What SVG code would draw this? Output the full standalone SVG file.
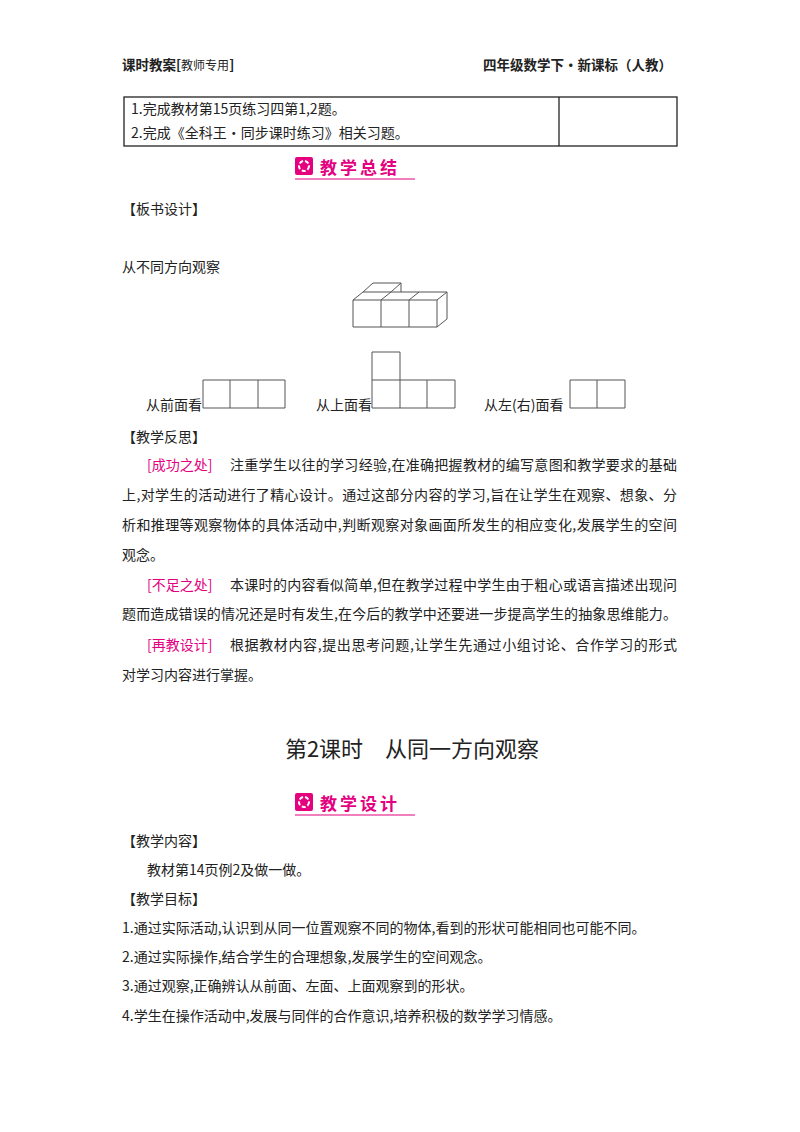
<svg xmlns="http://www.w3.org/2000/svg" width="800" height="1132" viewBox="0 0 800 1132">
<style>
text{font-family:"Noto Sans CJK SC","Liberation Serif",serif;font-size:14px;fill:#222}
.h{font-size:13.5px;font-weight:bold}
.p{fill:#e4007f}
.b{font-size:17px;font-weight:bold;fill:#e4007f;letter-spacing:3px}
.title{font-size:22px}
.sm{font-size:12px;font-weight:normal}
.l{fill:none;stroke:#555;stroke-width:1}
.t{fill:none;stroke:#222;stroke-width:1.3}
</style>
<rect width="800" height="1132" fill="#fff"/>
<text x="122" y="70" class="h">课时教案[<tspan class="sm">教师专用</tspan>]</text>
<text x="672" y="70" class="h" text-anchor="end">四年级数学下·新课标（人教）</text>
<rect x="124" y="97" width="553" height="49" class="t"/>
<line x1="559" y1="97" x2="559" y2="146" class="t"/>
<text x="131" y="114">1.完成教材第15页练习四第1,2题。</text>
<text x="131" y="138">2.完成《全科王·同步课时练习》相关习题。</text>
<g id="badge1">
<rect x="295" y="157" width="18" height="18" rx="2" fill="#e4007f"/>
<circle cx="304" cy="166" r="5" fill="none" stroke="#fff" stroke-width="2" stroke-dasharray="4 2"/>
<text x="320" y="174" class="b">教学总结</text>
<line x1="295" y1="179" x2="415" y2="179" stroke="#e4007f" stroke-width="1.2"/>
</g>
<text x="122" y="214">【板书设计】</text>
<text x="122" y="272">从不同方向观察</text>
<g id="cube3d">
<path class="l" d="M353 300H437V327H353Z M381 300V327 M409 300V327 M437 300L447 292V319L437 327 M353 300L363 292H447 M381 300L391 292 M409 300L419 292 M363 292L373 283H401L391 292 M401 283V292"/>
</g>
<g id="views">
<text x="146" y="410">从前面看</text>
<path class="l" d="M203 380H285V408H203Z M230 380V408 M258 380V408"/>
<text x="316" y="410">从上面看</text>
<path class="l" d="M372 380H455V408H372Z M400 380V408 M427 380V408 M372 352H400V380 M372 352V380"/>
<text x="484" y="410">从左(右)面看</text>
<path class="l" d="M570 380H625V408H570Z M597 380V408"/>
</g>
<text x="122" y="442">【教学反思】</text>
<text x="147" y="470"><tspan class="p">[成功之处]</tspan></text>
<text x="230" y="470" textLength="447">注重学生以往的学习经验,在准确把握教材的编写意图和教学要求的基础</text>
<text x="122" y="500" textLength="555">上,对学生的活动进行了精心设计。通过这部分内容的学习,旨在让学生在观察、想象、分</text>
<text x="122" y="530" textLength="555">析和推理等观察物体的具体活动中,判断观察对象画面所发生的相应变化,发展学生的空间</text>
<text x="122" y="560">观念。</text>
<text x="147" y="590"><tspan class="p">[不足之处]</tspan></text>
<text x="230" y="590" textLength="447">本课时的内容看似简单,但在教学过程中学生由于粗心或语言描述出现问</text>
<text x="122" y="619" textLength="555">题而造成错误的情况还是时有发生,在今后的教学中还要进一步提高学生的抽象思维能力。</text>
<text x="147" y="650"><tspan class="p">[再教设计]</tspan></text>
<text x="230" y="650" textLength="447">根据教材内容,提出思考问题,让学生先通过小组讨论、合作学习的形式</text>
<text x="122" y="680">对学习内容进行掌握。</text>
<text x="412" y="757" text-anchor="middle" class="title">第2课时　从同一方向观察</text>
<g id="badge2">
<rect x="295" y="793" width="18" height="18" rx="2" fill="#e4007f"/>
<circle cx="304" cy="802" r="5" fill="none" stroke="#fff" stroke-width="2" stroke-dasharray="4 2"/>
<text x="320" y="810" class="b">教学设计</text>
<line x1="295" y1="815" x2="415" y2="815" stroke="#e4007f" stroke-width="1.2"/>
</g>
<text x="122" y="846">【教学内容】</text>
<text x="147" y="875">教材第14页例2及做一做。</text>
<text x="122" y="904">【教学目标】</text>
<text x="122" y="933">1.通过实际活动,认识到从同一位置观察不同的物体,看到的形状可能相同也可能不同。</text>
<text x="122" y="962">2.通过实际操作,结合学生的合理想象,发展学生的空间观念。</text>
<text x="122" y="991">3.通过观察,正确辨认从前面、左面、上面观察到的形状。</text>
<text x="122" y="1021">4.学生在操作活动中,发展与同伴的合作意识,培养积极的数学学习情感。</text>
</svg>
